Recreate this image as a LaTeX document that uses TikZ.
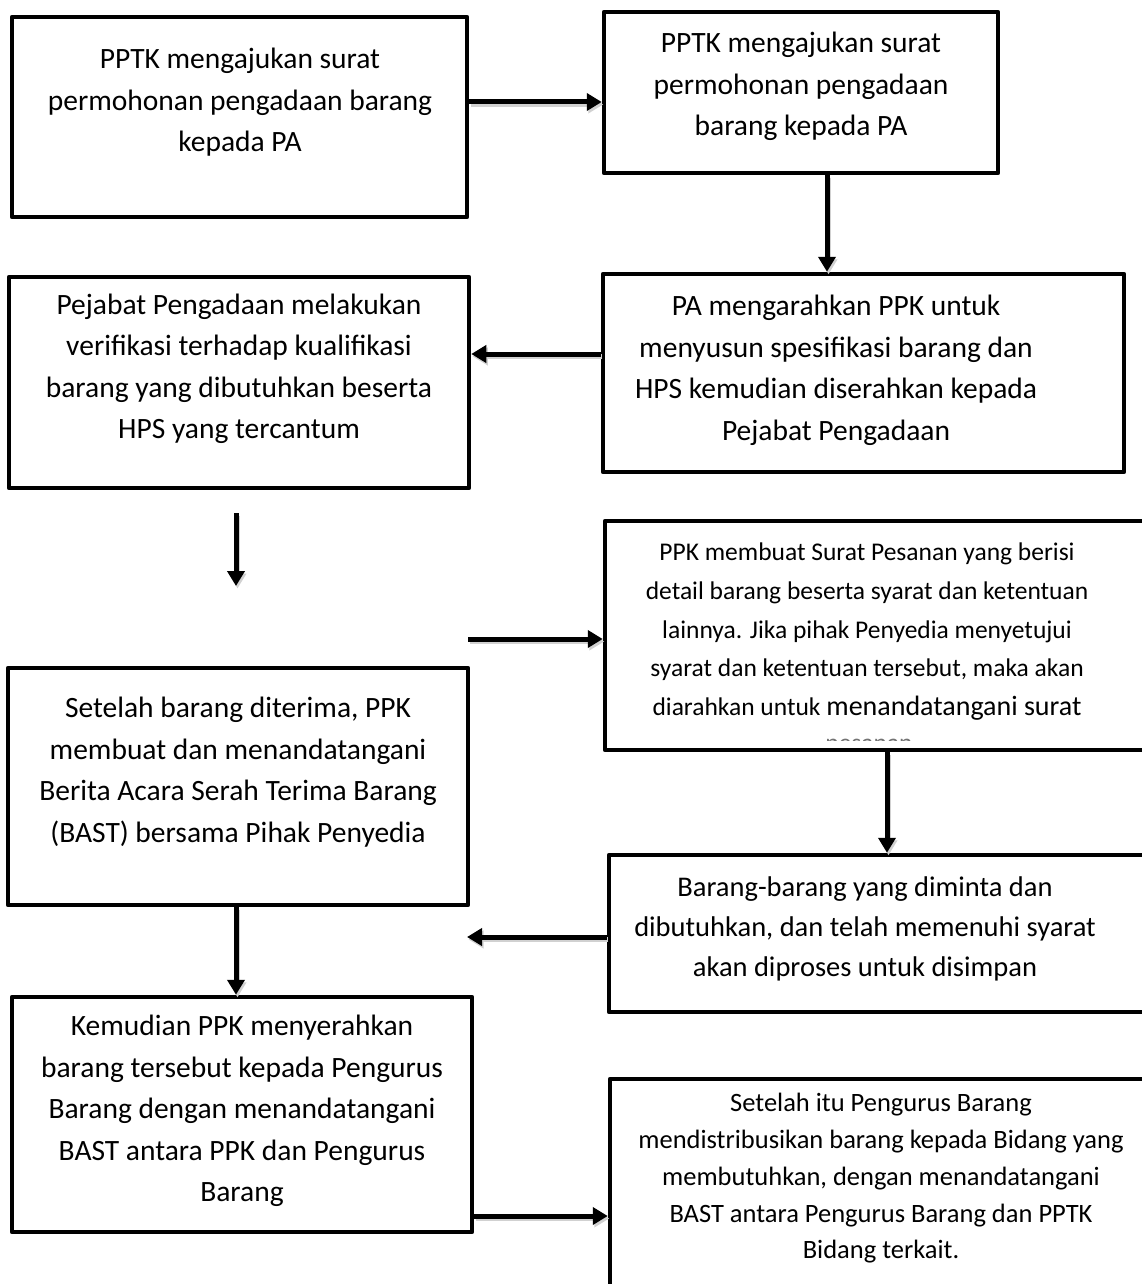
\documentclass[tikz,border=0pt]{standalone}
\usepackage{fontspec}
\setmainfont{Carlito}
\usetikzlibrary{arrows.meta}
\newcommand\tst{\rule[-0.25em]{0pt}{1.05em}}
\tikzset{
  box/.style={draw=black, line width=4.5pt, rectangle, inner sep=0pt, line join=round},
  txt/.style={align=center, inner sep=0pt, text=black},
  big/.style={font=\fontsize{29.5}{41.5}\selectfont},
  arr/.style={line width=5pt, -{Triangle[length=15pt,width=17pt]},
    preaction={draw=black!18, line width=5pt, -{Triangle[length=15pt,width=17pt]}, transform canvas={shift={(1.5pt,-2.5pt)}}}},
}
\begin{document}
\begin{tikzpicture}[x=1pt,y=-1pt]
\useasboundingbox (0,0) rectangle (1142,1284);
\fill[white] (0,0) rectangle (1142,1284);
\clip (0,0) rectangle (1142,1284);

% boxes
\node[box, minimum width=455pt, minimum height=200pt] (b1) at (239.5,117) {};
\node[box, minimum width=394pt, minimum height=161pt] (b2) at (801,92.5) {};
\node[box, minimum width=521pt, minimum height=198pt] (b3) at (863.5,373) {};
\node[box, minimum width=460pt, minimum height=211pt] (b4) at (239,382.5) {};
\node[box, minimum width=555pt, minimum height=229pt] (b5) at (882.5,635.5) {};
\node[box, minimum width=460pt, minimum height=237pt] (b6) at (238,786.5) {};
\node[box, minimum width=551pt, minimum height=157pt] (b7) at (884.5,933.5) {};
\node[box, minimum width=460pt, minimum height=235pt] (b8) at (242,1114.5) {};
\node[box, minimum width=550pt, minimum height=221pt] (b9) at (885,1189.5) {};

% texts
\node[txt, big] (t1) at (240,102) {\tst PPTK mengajukan surat\\permohonan pengadaan barang\\kepada PA\tst};
\node[txt, big] (t2) at (801,86) {\tst PPTK mengajukan surat\\permohonan pengadaan\\barang kepada PA\tst};
\node[txt, big] (t3) at (836,370) {\tst PA mengarahkan PPK untuk\\menyusun spesifikasi barang dan\\HPS kemudian diserahkan kepada\\Pejabat Pengadaan\tst};
\node[txt, big] (t4) at (239,368.5) {\tst Pejabat Pengadaan melakukan\\verifikasi terhadap kualifikasi\\barang yang dibutuhkan beserta\\HPS yang tercantum\tst};
\node[txt, font=\fontsize{25.5}{38.7}\selectfont] (t5) at (867,631) {\tst PPK membuat Surat Pesanan yang berisi\\detail barang beserta syarat dan ketentuan\\lainnya. Jika pihak Penyedia menyetujui\\syarat dan ketentuan tersebut, maka akan\\diarahkan untuk {\fontsize{28}{38.7}\selectfont menandatangani surat}\tst};
\begin{scope}
\clip (600,700) rectangle (1142,740);
\node[inner sep=0pt, text=black!55, font=\fontsize{25.5}{38.7}\selectfont, anchor=base] (t5b) at (869,751.5) {pesanan};
\end{scope}
\node[txt, big] (t6) at (238,772) {\tst Setelah barang diterima, PPK\\membuat dan menandatangani\\Berita Acara Serah Terima Barang\\(BAST) bersama Pihak Penyedia\tst};
\node[txt, font=\fontsize{28.5}{40}\selectfont] (t7) at (865,929) {\tst Barang-barang yang diminta dan\\dibutuhkan, dan telah memenuhi syarat\\akan diproses untuk disimpan\tst};
\node[txt, big] (t8) at (242,1110.6) {\tst Kemudian PPK menyerahkan\\barang tersebut kepada Pengurus\\Barang dengan menandatangani\\BAST antara PPK dan Pengurus\\Barang\tst};
\node[txt, font=\fontsize{26.5}{36.8}\selectfont] (t9) at (881,1178) {\tst Setelah itu Pengurus Barang\\mendistribusikan barang kepada Bidang yang\\membutuhkan, dengan menandatangani\\BAST antara Pengurus Barang dan PPTK\\Bidang terkait.\tst};

% free coordinates
\coordinate (c4a) at (236,513);
\coordinate (c4b) at (236,586);
\coordinate (c5) at (468,639);
\coordinate (c7) at (467,937);

% connectors
\draw[arr] (b1.east |- 0,102) -- (b2.west |- 0,102);
\draw[arr] (b2.south -| 827,0) -- (b3.north -| 827,0);
\draw[arr] (b3.west |- 0,354) -- (b4.east |- 0,354);
\draw[arr] (c4a) -- (c4b);
\draw[arr] (c5) -- (b5.west |- c5);
\draw[arr] (b5.south -| 887,0) -- (b7.north -| 887,0);
\draw[arr] (b7.west |- c7) -- (c7);
\draw[arr] (b6.south -| 236,0) -- (b8.north -| 236,0);
\draw[arr] (b8.east |- 0,1216) -- (b9.west |- 0,1216);
\end{tikzpicture}
\end{document}
